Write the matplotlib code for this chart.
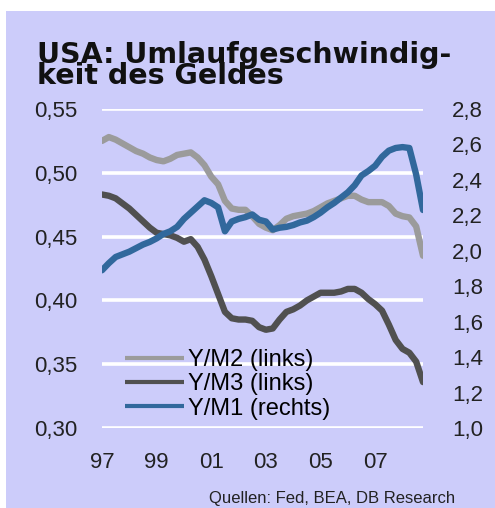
import matplotlib
matplotlib.use('Agg')
import matplotlib.pyplot as plt
import numpy as np
from matplotlib.patches import Rectangle
from matplotlib.ticker import FuncFormatter, FixedLocator

plt.rcParams['font.family'] = ['Liberation Sans', 'DejaVu Sans']

# quarterly observations, 1997Q1 .. 2008Q4
QUARTERS = np.arange(1997, 2009, 0.25)

# velocity of money (left axis)
Y_M2 = [0.525, 0.528, 0.526, 0.523, 0.520, 0.517, 0.515, 0.512,
        0.510, 0.509, 0.511, 0.514, 0.515, 0.516, 0.512, 0.506,
        0.497, 0.491, 0.478, 0.472, 0.471, 0.471, 0.466, 0.460,
        0.457, 0.455, 0.459, 0.464, 0.466, 0.467, 0.468, 0.470,
        0.473, 0.476, 0.478, 0.480, 0.482, 0.482, 0.479, 0.477,
        0.477, 0.477, 0.474, 0.468, 0.466, 0.465, 0.458, 0.435]
Y_M3 = [0.483, 0.482, 0.480, 0.476, 0.472, 0.467, 0.462, 0.457,
        0.453, 0.452, 0.451, 0.449, 0.446, 0.448, 0.442, 0.432,
        0.419, 0.405, 0.391, 0.386, 0.385, 0.385, 0.384, 0.379,
        0.377, 0.378, 0.385, 0.391, 0.393, 0.396, 0.400, 0.403,
        0.406, 0.406, 0.406, 0.407, 0.409, 0.409, 0.406, 0.401,
        0.397, 0.392, 0.381, 0.369, 0.362, 0.359, 0.352, 0.336]
# right axis
Y_M1 = [1.89, 1.93, 1.965, 1.98, 1.995, 2.015, 2.035, 2.05,
        2.07, 2.095, 2.11, 2.135, 2.18, 2.215, 2.25, 2.285,
        2.27, 2.245, 2.11, 2.165, 2.18, 2.19, 2.205, 2.175,
        2.165, 2.12, 2.13, 2.135, 2.145, 2.16, 2.17, 2.19,
        2.215, 2.245, 2.27, 2.30, 2.33, 2.37, 2.425, 2.45,
        2.48, 2.53, 2.565, 2.58, 2.585, 2.58, 2.43, 2.23]

X_TICKS = [1997, 1999, 2001, 2003, 2005, 2007]
X_LABELS = ['97', '99', '01', '03', '05', '07']
LEFT_TICKS = [0.30, 0.35, 0.40, 0.45, 0.50, 0.55]
RIGHT_TICKS = [1.0, 1.2, 1.4, 1.6, 1.8, 2.0, 2.2, 2.4, 2.6, 2.8]

BG = '#ccccfa'
C_M2 = '#9b9b9b'
C_M3 = '#505050'
C_M1 = '#31689c'

W, H = 495, 508
fig = plt.figure(figsize=(W / 100, H / 100), dpi=100, facecolor='white')
fig.patches.append(Rectangle((6 / W, 0), 1 - 6 / W, 1 - 11 / H,
                             transform=fig.transFigure, facecolor=BG,
                             edgecolor='none', zorder=-10))

ax = fig.add_axes([102 / W, 1 - 428 / H, (423 - 102) / W, (428 - 109) / H])
ax.set_facecolor('none')
ax2 = ax.twinx()
ax2.set_facecolor('none')

l_m2, = ax.plot(QUARTERS, Y_M2, color=C_M2, lw=4.6, solid_capstyle='round',
                solid_joinstyle='round', label='Y/M2 (links)')
l_m3, = ax.plot(QUARTERS, Y_M3, color=C_M3, lw=4.6, solid_capstyle='round',
                solid_joinstyle='round', label='Y/M3 (links)')
l_m1, = ax2.plot(QUARTERS, Y_M1, color=C_M1, lw=4.6, solid_capstyle='round',
                 solid_joinstyle='round', label='Y/M1 (rechts)')

ax.set_xlim(1997, 2008.75)
ax.set_ylim(0.30, 0.55)
ax2.set_ylim(1.0, 2.8)

ax.xaxis.set_major_locator(FixedLocator(X_TICKS))
ax.set_xticklabels(X_LABELS)
ax.set_yticks(LEFT_TICKS)
ax.yaxis.set_major_formatter(FuncFormatter(lambda v, p: f'{v:.2f}'.replace('.', ',')))
ax2.set_yticks(RIGHT_TICKS)
ax2.yaxis.set_major_formatter(FuncFormatter(lambda v, p: f'{v:.1f}'.replace('.', ',')))

ax.tick_params(axis='x', length=0, pad=17, labelsize=16, colors='#222222')
ax.tick_params(axis='y', length=0, pad=18, labelsize=16, colors='#222222')
ax2.tick_params(axis='y', length=0, pad=21, labelsize=16, colors='#222222')

ax.yaxis.grid(True, color='white', lw=2.6)
ax.set_axisbelow(True)
for a in (ax, ax2):
    for s in a.spines.values():
        s.set_visible(False)

leg = fig.legend(handles=[l_m2, l_m3, l_m1], loc='upper left',
                 bbox_to_anchor=(125 / W, 1 - 349 / H), frameon=False,
                 fontsize=17, borderpad=0, borderaxespad=0, labelspacing=0.1,
                 handlelength=2.5, handletextpad=0.15)
for line in leg.get_lines():
    line.set_linewidth(3)
    line.set_solid_capstyle('butt')

# two-line title, set tight like the original (baseline = last line)
fig.text(37 / W, 1 - 84 / H, 'USA: Umlaufgeschwindig-\nkeit des Geldes',
         fontsize=20.5, fontweight='bold', family='DejaVu Sans',
         va='baseline', ha='left', color='#111111', linespacing=0.66)
fig.text(455 / W, 1 - 503 / H, 'Quellen: Fed, BEA, DB Research', fontsize=12,
         va='baseline', ha='right', color='#222222')

fig.savefig('out.png', dpi=100, facecolor='white')
